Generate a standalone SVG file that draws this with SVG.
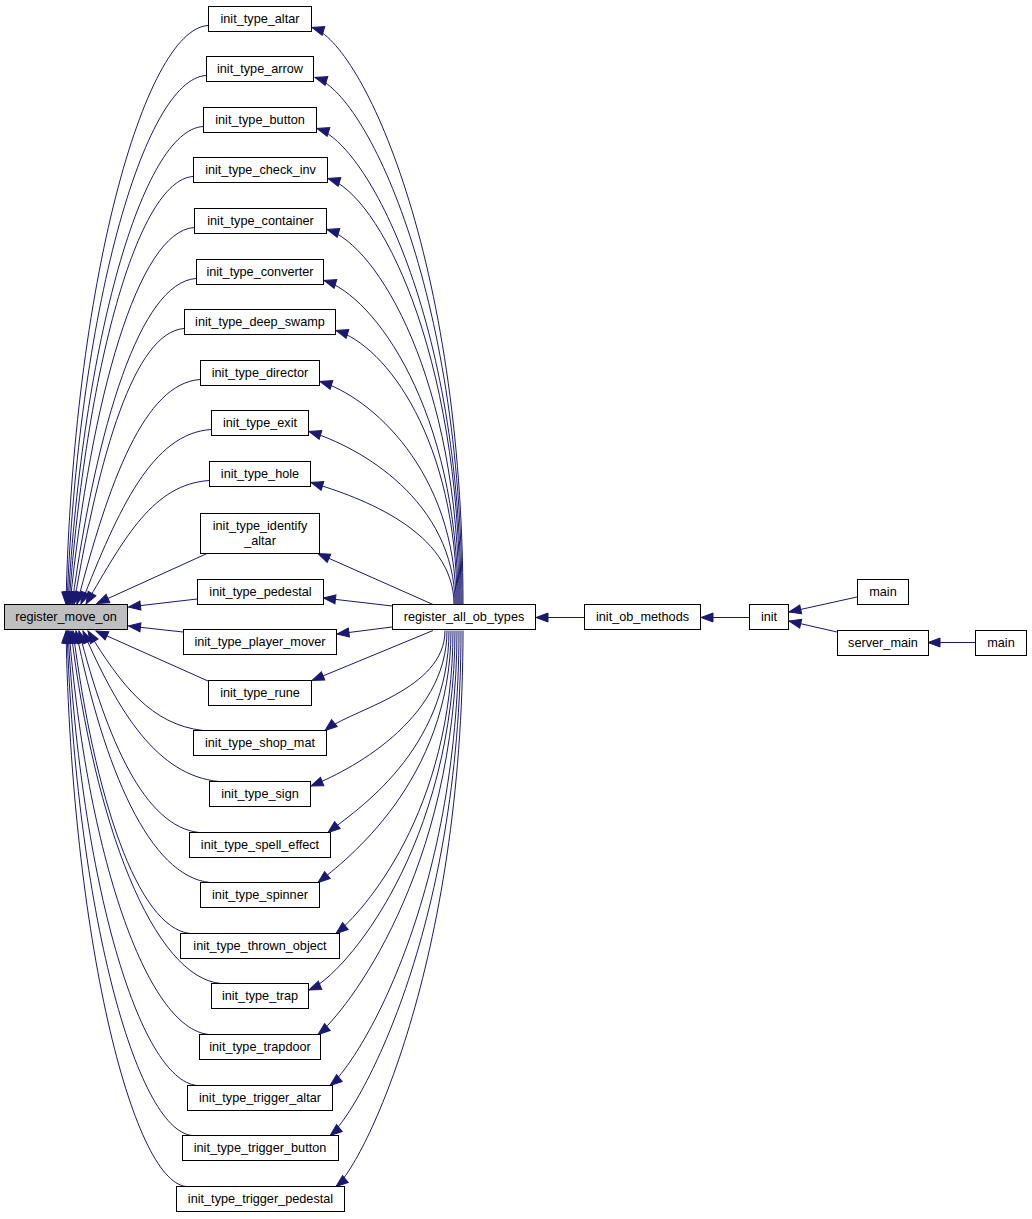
<svg xmlns="http://www.w3.org/2000/svg" width="1032" height="1219" viewBox="0 0 1032 1219">
<style>
.n rect{fill:#fff;stroke:#000;stroke-width:1}
.n text{font-family:"Liberation Sans",Arial,Helvetica,sans-serif;font-size:12.7px;fill:#000;text-anchor:middle}
.e path{fill:none;stroke:#191970;stroke-width:1;marker-end:url(#ah)}
</style>
<defs>
<marker id="ah" markerUnits="userSpaceOnUse" markerWidth="14" markerHeight="12" refX="12" refY="5" orient="auto" overflow="visible">
<path d="M0,0.5 L12,5 L0,9.5 z" fill="#191970" stroke="#191970" stroke-width="1"/>
</marker>
</defs>
<rect width="1032" height="1219" fill="#fff"/>
<g class="e" id="edges">
<path d="M208,25.5 C144,29.5 73,286 66,604"/>
<path d="M206,75.5 C143.5,79.5 78,313 67,604"/>
<path d="M203,126.5 C142.3,130.5 82.9,341.4 68,604"/>
<path d="M193,176.5 C137.2,180.5 86.4,368.9 69,604"/>
<path d="M194,227.5 C138.2,231.5 91.1,396.9 70,604"/>
<path d="M196,278.5 C140.2,282.5 96.8,425 72,604"/>
<path d="M184,328.5 C134.5,332.5 99.3,452.5 74,604"/>
<path d="M200,379.5 C144.6,383.5 109,480.5 77,604"/>
<path d="M211,429.5 C152.5,433.5 118.7,508 81,604"/>
<path d="M209,480.5 C153.6,484.5 125.4,536 86,604"/>
<path d="M207,553.5 L97,603.5"/>
<path d="M197,599 L128.5,607"/>
<path d="M183,632 L128.5,626"/>
<path d="M208,681 L96,631"/>
<path d="M203,730.5 C151.3,724.5 121.4,685.5 88,631"/>
<path d="M219,781.5 C157.8,775.5 118.8,713.5 83,631"/>
<path d="M199,832.5 C145,826.5 107.3,741.6 79,631"/>
<path d="M210,882.5 C149.7,876.5 104,769.1 76,631"/>
<path d="M190,933.5 C137.3,927.5 94.3,797.1 73,631"/>
<path d="M221,983.5 C153.5,977.5 94.3,824.6 71,631"/>
<path d="M209,1034.5 C146,1028.5 86.9,852.7 69,631"/>
<path d="M197,1085.5 C139,1079.5 81,880.75 68,631"/>
<path d="M192,1135.5 C135.75,1129.5 76.25,908.25 67,631"/>
<path d="M186,1186.5 C132,1180.5 71.6,936.3 66,631"/>
<path d="M463,604.5 C463,258.1 362,42.5 312,27.5"/>
<path d="M462,604.5 C462,288.1 365,92.5 315,77.5"/>
<path d="M461,604.5 C461,318.7 367,143.5 317,128.5"/>
<path d="M460,604.5 C460,348.7 378,193.5 328,178.5"/>
<path d="M459,604.5 C459,379.3 377,244.5 327,229.5"/>
<path d="M458,604.5 C458,409.9 374,295.5 324,280.5"/>
<path d="M457,604.5 C457,439.9 386,345.5 336,330.5"/>
<path d="M456,604.5 C456,470.5 370,396.5 320,381.5"/>
<path d="M455,604.5 C455,500.5 359,446.5 309,431.5"/>
<path d="M454,604.5 C454,531.1 361,497.5 311,482.5"/>
<path d="M433,604.5 L318,553.5"/>
<path d="M392,606 L323.5,598"/>
<path d="M392,627 L337,634"/>
<path d="M433,630.5 L312,680.5"/>
<path d="M445,630.5 C445,690.3 352,709 325,730.5"/>
<path d="M447,630.5 C447,722 346,772 311,786"/>
<path d="M449,630.5 C449,751.5 355,811 328,832.5"/>
<path d="M451,630.5 C451,781.5 345,861 318,882.5"/>
<path d="M453,630.5 C453,812.1 363,912 336,933.5"/>
<path d="M455,630.5 C455,845 345,975 309,990"/>
<path d="M457,630.5 C457,872.7 345,1013 318,1034.5"/>
<path d="M459,630.5 C459,903.3 357,1064 330,1085.5"/>
<path d="M461,630.5 C461,933.3 357,1114 330,1135.5"/>
<path d="M463,630.5 C463,963.9 363,1165 336,1186.5"/>
<path d="M584,617.5 L536,617.5"/>
<path d="M749,617.5 L701,617.5"/>
<path d="M857,597 L789,612"/>
<path d="M837,632 L789,621"/>
<path d="M975,642.5 L928,642.5"/>
</g>
<g class="n" id="register_move_on"><rect x="4.5" y="604.5" width="123" height="25" style="fill:#bfbfbf"/><text x="66" y="621.4">register_move_on</text></g>
<g class="n" id="init_type_altar"><rect x="208.5" y="6.5" width="103" height="25"/><text x="260" y="23.4">init_type_altar</text></g>
<g class="n" id="init_type_arrow"><rect x="206.5" y="56.5" width="107" height="25"/><text x="260" y="73.4">init_type_arrow</text></g>
<g class="n" id="init_type_button"><rect x="203.5" y="107.5" width="113" height="25"/><text x="260" y="124.4">init_type_button</text></g>
<g class="n" id="init_type_check_inv"><rect x="193.5" y="157.5" width="134" height="25"/><text x="260.5" y="174.4">init_type_check_inv</text></g>
<g class="n" id="init_type_container"><rect x="194.5" y="208.5" width="132" height="25"/><text x="260.5" y="225.4">init_type_container</text></g>
<g class="n" id="init_type_converter"><rect x="196.5" y="259.5" width="127" height="25"/><text x="260" y="276.4">init_type_converter</text></g>
<g class="n" id="init_type_deep_swamp"><rect x="184.5" y="309.5" width="151" height="25"/><text x="260" y="326.4">init_type_deep_swamp</text></g>
<g class="n" id="init_type_director"><rect x="200.5" y="360.5" width="119" height="25"/><text x="260" y="377.4">init_type_director</text></g>
<g class="n" id="init_type_exit"><rect x="211.5" y="410.5" width="97" height="25"/><text x="260" y="427.4">init_type_exit</text></g>
<g class="n" id="init_type_hole"><rect x="209.5" y="461.5" width="101" height="25"/><text x="260" y="478.4">init_type_hole</text></g>
<g class="n" id="init_type_identify_altar"><rect x="200.5" y="513.5" width="119" height="40"/><text x="260" y="529.5">init_type_identify</text><text x="260" y="544.5">_altar</text></g>
<g class="n" id="init_type_pedestal"><rect x="197.5" y="579.5" width="126" height="25"/><text x="260.5" y="596.4">init_type_pedestal</text></g>
<g class="n" id="init_type_player_mover"><rect x="183.5" y="629.5" width="153" height="25"/><text x="260" y="646.4">init_type_player_mover</text></g>
<g class="n" id="init_type_rune"><rect x="208.5" y="680.5" width="103" height="25"/><text x="260" y="697.4">init_type_rune</text></g>
<g class="n" id="init_type_shop_mat"><rect x="193.5" y="730.5" width="133" height="25"/><text x="260" y="747.4">init_type_shop_mat</text></g>
<g class="n" id="init_type_sign"><rect x="209.5" y="781.5" width="101" height="25"/><text x="260" y="798.4">init_type_sign</text></g>
<g class="n" id="init_type_spell_effect"><rect x="189.5" y="832.5" width="141" height="25"/><text x="260" y="849.4">init_type_spell_effect</text></g>
<g class="n" id="init_type_spinner"><rect x="200.5" y="882.5" width="119" height="25"/><text x="260" y="899.4">init_type_spinner</text></g>
<g class="n" id="init_type_thrown_object"><rect x="180.5" y="933.5" width="159" height="25"/><text x="260" y="950.4">init_type_thrown_object</text></g>
<g class="n" id="init_type_trap"><rect x="211.5" y="983.5" width="97" height="25"/><text x="260" y="1000.4">init_type_trap</text></g>
<g class="n" id="init_type_trapdoor"><rect x="199.5" y="1034.5" width="121" height="25"/><text x="260" y="1051.4">init_type_trapdoor</text></g>
<g class="n" id="init_type_trigger_altar"><rect x="187.5" y="1085.5" width="145" height="25"/><text x="260" y="1102.4">init_type_trigger_altar</text></g>
<g class="n" id="init_type_trigger_button"><rect x="182.5" y="1135.5" width="156" height="25"/><text x="260" y="1152.4">init_type_trigger_button</text></g>
<g class="n" id="init_type_trigger_pedestal"><rect x="176.5" y="1186.5" width="168" height="25"/><text x="260.5" y="1203.4">init_type_trigger_pedestal</text></g>
<g class="n" id="register_all_ob_types"><rect x="392.5" y="604.5" width="143" height="25"/><text x="464" y="621.4">register_all_ob_types</text></g>
<g class="n" id="init_ob_methods"><rect x="584.5" y="604.5" width="116" height="25"/><text x="642.5" y="621.4">init_ob_methods</text></g>
<g class="n" id="init"><rect x="749.5" y="604.5" width="39" height="25"/><text x="769" y="621.4">init</text></g>
<g class="n" id="main1"><rect x="857.5" y="579.5" width="51" height="25"/><text x="883" y="596.4">main</text></g>
<g class="n" id="server_main"><rect x="837.5" y="630.5" width="91" height="25"/><text x="883" y="647.4">server_main</text></g>
<g class="n" id="main2"><rect x="975.5" y="630.5" width="51" height="25"/><text x="1001" y="647.4">main</text></g>
</svg>
